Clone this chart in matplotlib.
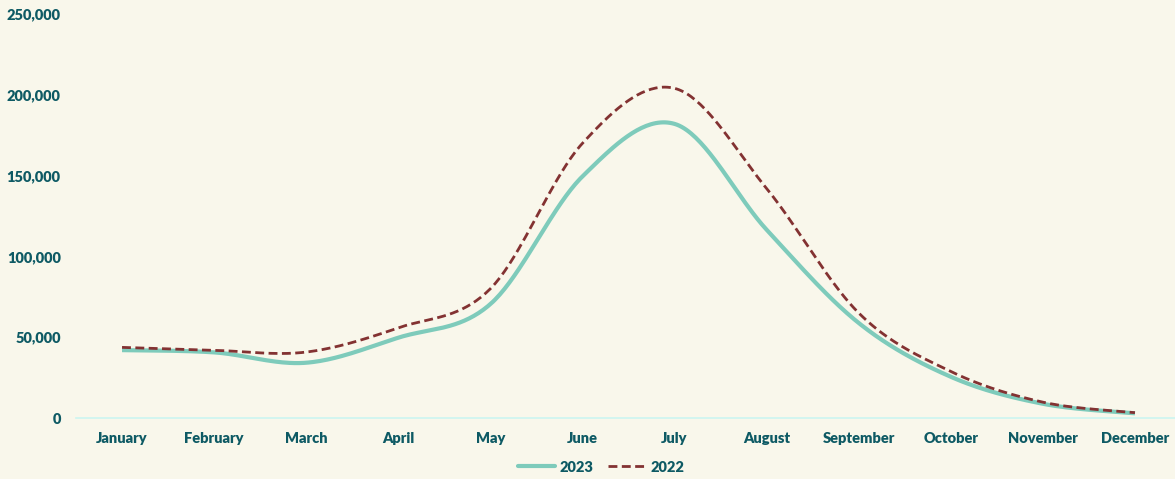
import numpy as np
import matplotlib
matplotlib.use("Agg")
import matplotlib.pyplot as plt
from matplotlib.ticker import FuncFormatter
from matplotlib.lines import Line2D

months = ["January", "February", "March", "April", "May", "June",
          "July", "August", "September", "October", "November", "December"]
visits_2023 = [42000, 40600, 34200, 49700, 70500, 149500,
               182000, 116500, 58800, 25500, 8800, 2900]
visits_2022 = [43700, 41900, 40800, 55800, 80000, 170000,
               204000, 142000, 65000, 28800, 9800, 3300]

BG = "#F9F7EB"
TEXT = "#0E5A64"
TEAL = "#7ECBBB"
RED = "#833232"
AXIS = "#CCF5F0"

plt.rcParams["font.family"] = ["Lato", "DejaVu Sans"]


def smooth(xs, ys, tension=0.5, steps=40):
    """Cardinal (Catmull-Rom style) spline through every point."""
    xs = np.asarray(xs, float)
    ys = np.asarray(ys, float)
    n = len(xs)
    out_x, out_y = [], []
    t = np.linspace(0, 1, steps)
    for i in range(n - 1):
        p0 = np.array([xs[max(i - 1, 0)], ys[max(i - 1, 0)]])
        p1 = np.array([xs[i], ys[i]])
        p2 = np.array([xs[i + 1], ys[i + 1]])
        p3 = np.array([xs[min(i + 2, n - 1)], ys[min(i + 2, n - 1)]])
        c1 = p1 + (p2 - p0) * tension / 3
        c2 = p2 - (p3 - p1) * tension / 3
        b = ((1 - t) ** 3)[:, None] * p1 + (3 * (1 - t) ** 2 * t)[:, None] * c1 \
            + (3 * (1 - t) * t ** 2)[:, None] * c2 + (t ** 3)[:, None] * p2
        out_x.extend(b[:, 0])
        out_y.extend(b[:, 1])
    return np.array(out_x), np.array(out_y)


fig = plt.figure(figsize=(11.75, 4.79), dpi=100, facecolor=BG)
ax = fig.add_axes([76 / 1175, 1 - 418 / 479, 1105 / 1175, 404 / 479])
ax.set_facecolor(BG)

x = np.arange(len(months))
sx, sy = smooth(x, visits_2023)
ax.plot(sx, sy, color=TEAL, lw=3.0, solid_capstyle="butt", zorder=3)
sx, sy = smooth(x, visits_2022)
ax.plot(sx, sy, color=RED, lw=2.0, dashes=(3.2, 1.6), dash_capstyle="butt", zorder=4)

ax.set_xlim(-0.5, len(months) - 0.5)
ax.set_ylim(0, 250000)
ax.set_yticks(np.arange(0, 250001, 50000))
ax.yaxis.set_major_formatter(FuncFormatter(lambda v, p: f"{int(v):,}"))
ax.set_xticks(x)
ax.set_xticklabels(months)

for s in ["top", "right", "left"]:
    ax.spines[s].set_visible(False)
ax.spines["bottom"].set_color(AXIS)
ax.spines["bottom"].set_linewidth(1.2)
ax.tick_params(axis="both", length=0, colors=TEXT, labelsize=10.5)
ax.tick_params(axis="y", pad=11)
ax.tick_params(axis="x", pad=10)
for lab in ax.get_xticklabels() + ax.get_yticklabels():
    lab.set_fontweight("heavy")
    lab.set_color(TEXT)

handles = [Line2D([], [], color=TEAL, lw=3.0, solid_capstyle="round"),
           Line2D([], [], color=RED, lw=2.0, dashes=(3.2, 1.6))]
leg = fig.legend(handles, ["2023", "2022"], loc="center", bbox_to_anchor=(601 / 1175, 1 - 467 / 479),
                 ncol=2, frameon=False, handlelength=2.6, handletextpad=0.3, columnspacing=1.0,
                 prop={"weight": "heavy", "size": 10.5})
for t in leg.get_texts():
    t.set_color(TEXT)

fig.savefig("out.png", dpi=100, facecolor=BG)
